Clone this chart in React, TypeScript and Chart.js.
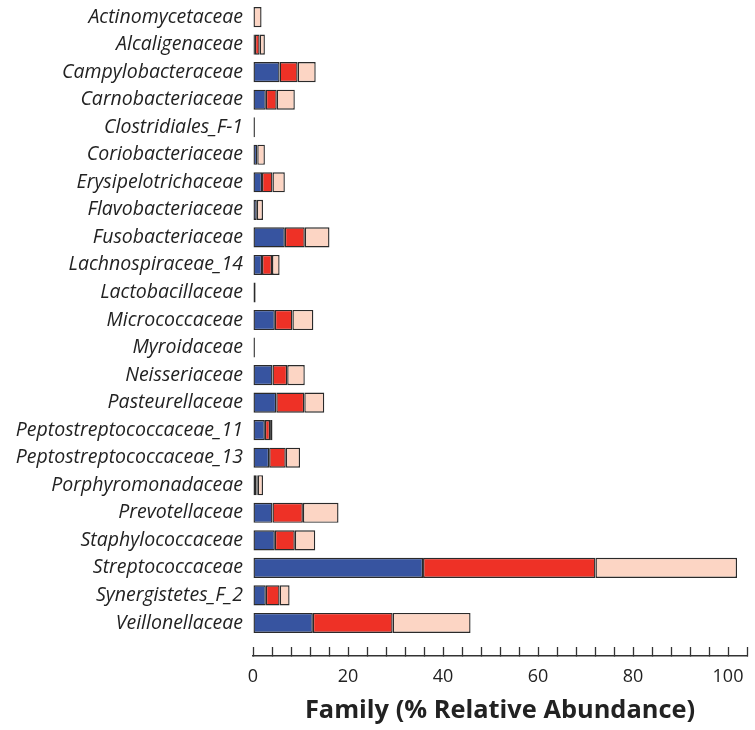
import React, { useEffect, useRef } from "react";
import { Chart, registerables } from "chart.js";

Chart.register(...registerables);

const families: string[] = [
  "Actinomycetaceae",
  "Alcaligenaceae",
  "Campylobacteraceae",
  "Carnobacteriaceae",
  "Clostridiales_F-1",
  "Coriobacteriaceae",
  "Erysipelotrichaceae",
  "Flavobacteriaceae",
  "Fusobacteriaceae",
  "Lachnospiraceae_14",
  "Lactobacillaceae",
  "Micrococcaceae",
  "Myroidaceae",
  "Neisseriaceae",
  "Pasteurellaceae",
  "Peptostreptococcaceae_11",
  "Peptostreptococcaceae_13",
  "Porphyromonadaceae",
  "Prevotellaceae",
  "Staphylococcaceae",
  "Streptococcaceae",
  "Synergistetes_F_2",
  "Veillonellaceae",
];

const blueValues: number[] = [
  0, 0.4, 5.6, 2.7, 0.4, 0.9, 1.9, 0.8, 6.7, 1.9, 0.55, 4.6, 0.4, 4.1, 4.9, 2.5,
  3.4, 0.7, 4.1, 4.6, 35.8, 2.7, 12.6,
];
const redValues: number[] = [
  0, 1.0, 3.8, 2.3, 0, 0, 2.2, 0, 4.2, 2.1, 0, 3.7, 0, 3.1, 5.9, 1.1, 3.5, 0.3,
  6.4, 4.2, 36.3, 2.9, 16.8,
];
const pinkValues: number[] = [
  1.8, 1.1, 3.8, 3.8, 0, 1.6, 2.6, 1.3, 5.2, 1.6, 0, 4.4, 0, 3.7, 4.2, 0.5, 3.0,
  1.1, 7.5, 4.3, 29.8, 2.1, 16.4,
];

const xMax = 104;
const xStep = 4;
const xLabelEvery = 20;
const xTitle = "Family (% Relative Abundance)";

export default function App() {
  const canvasRef = useRef<HTMLCanvasElement | null>(null);

  useEffect(() => {
    const canvas = canvasRef.current;
    if (!canvas) return;
    const toPoints = (arr: number[]) => arr.map((v, i) => ({ x: v, y: i }));
    const common = {
      borderColor: "#2a2a2a",
      borderWidth: 1.4,
      borderSkipped: false as const,
      barPercentage: 0.73,
      categoryPercentage: 1,
    };
    const chart = new Chart(canvas, {
      type: "bar",
      data: {
        datasets: [
          { label: "A", data: toPoints(blueValues), backgroundColor: "#3754a0", ...common },
          { label: "B", data: toPoints(redValues), backgroundColor: "#ee3126", ...common },
          { label: "C", data: toPoints(pinkValues), backgroundColor: "#fcd5c4", ...common },
        ],
      },
      options: {
        indexAxis: "y",
        responsive: false,
        animation: false,
        devicePixelRatio: 1,
        layout: { padding: { left: 0, right: 8, top: 0, bottom: 0 } },
        plugins: { legend: { display: false }, tooltip: { enabled: false } },
        scales: {
          x: {
            type: "linear",
            stacked: true,
            min: 0,
            max: xMax,
            afterFit: (scale: any) => {
              scale.height = 74;
              scale.paddingLeft = 0;
              scale.paddingRight = 0;
            },
            grid: {
              drawOnChartArea: false,
              drawTicks: true,
              tickLength: -9,
              tickColor: "#333",
              tickWidth: 1.3,
            },
            border: { display: true, color: "#333", width: 1.5 },
            ticks: {
              stepSize: xStep,
              autoSkip: false,
              maxRotation: 0,
              padding: 19,
              color: "#222",
              font: { family: "'Open Sans', sans-serif", size: 18 },
              callback: (v: any) => (Number(v) % xLabelEvery === 0 ? String(v) : ""),
            },
            title: {
              display: true,
              text: xTitle,
              color: "#222",
              font: { family: "'Open Sans', sans-serif", size: 25.4, weight: "bold" },
              padding: { top: 0, bottom: 4 },
            },
          },
          y: {
            type: "linear",
            stacked: true,
            reverse: true,
            offset: false,
            bounds: "data",
            min: -0.62,
            max: 23.2,
            afterBuildTicks: (scale: any) => {
              scale.ticks = families.map((_, i) => ({ value: i }));
            },
            afterFit: (scale: any) => {
              scale.width = 253;
              scale.paddingTop = 0;
              scale.paddingBottom = 0;
            },
            grid: { display: false, drawTicks: false, offset: false },
            border: { display: false },
            ticks: {
              autoSkip: false,
              padding: 10,
              color: "#222",
              font: { family: "'Open Sans', sans-serif", size: 19.5, style: "italic" },
              callback: (v: any) => families[Math.round(Number(v))] ?? "",
            },
          },
        },
      },
    } as any);
    return () => chart.destroy();
  }, []);

  return (
    <div style={{ position: "fixed", left: 0, top: 0, width: 755, height: 730, background: "#fff" }}>
      <canvas ref={canvasRef} width={755} height={730} />
    </div>
  );
}
